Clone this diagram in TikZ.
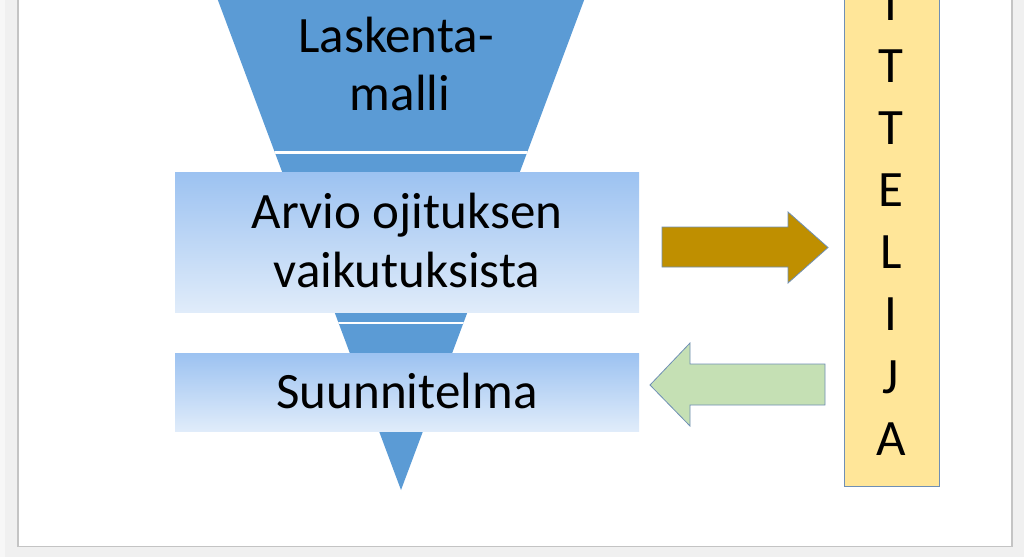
\documentclass[tikz,border=0pt]{standalone}
\usepackage{fontspec}
\setmainfont{Carlito}
\definecolor{bgout}{HTML}{F0F0F0}
\definecolor{framec}{HTML}{C4C4C4}
\definecolor{funnelc}{HTML}{5B9BD5}
\definecolor{boxtop}{HTML}{9CC2F1}
\definecolor{boxbot}{HTML}{E0ECFA}
\definecolor{brownc}{HTML}{BF8F00}
\definecolor{greenc}{HTML}{C5E0B4}
\definecolor{edgec}{HTML}{6F8FB5}
\definecolor{yellowc}{HTML}{FFE699}
\begin{document}
\begin{tikzpicture}[x=1pt,y=-1pt,
  lbl/.style={inner sep=0pt, anchor=base, font=\fontsize{51}{58}\selectfont},
  letter/.style={inner sep=0pt, anchor=base, font=\fontsize{51}{58}\selectfont},
  gradbox/.style={rectangle, inner sep=0pt, top color=boxtop, bottom color=boxbot, draw=none}]
\useasboundingbox (0,0) rectangle (1024,557);
\clip (0,0) rectangle (1024,557);
% frame
\fill[bgout] (0,0) rectangle (1024,557);
\fill[white!97!black] (0,0) rectangle (5,557);
\fill[white] (18,-5) rectangle (1012,546.5);
\draw[framec, line width=1.5pt] (18,-5) -- (18,546.5) -- (1012,546.5) -- (1012,-5);
% funnel
\coordinate (fl) at (216,-5);
\coordinate (fr) at (586,-5);
\coordinate (apex) at (401,490);
\fill[funnelc] (fl) -- (fr) -- (apex) -- cycle;
\begin{scope}
  \clip (fl) -- (fr) -- (apex) -- cycle;
  \draw[white, line width=2.5pt] (150,152.5) -- (650,152.5);
  \draw[white, line width=2.5pt] (150,323) -- (650,323);
\end{scope}
\node[lbl] (las1) at (396,52) {Laskenta-};
\node[lbl] (las2) at (400,110) {malli};
% boxes
\node[gradbox, minimum width=464pt, minimum height=140pt] (arvio) at (407,242) {};
\node[lbl] (arv1) at (arvio.center |- 0,228) {Arvio ojituksen};
\node[lbl] (arv2) at (arvio.center |- 0,287) {vaikutuksista};
\node[gradbox, minimum width=464pt, minimum height=78pt] (suun) at (407,392) {};
\node[lbl] (suu1) at (suun.center |- 0,408) {Suunnitelma};
% tall box
\node[rectangle, inner sep=0pt, fill=yellowc, draw=edgec, line width=1.2pt,
      minimum width=95pt, minimum height=500pt, anchor=south west] (user) at (844,487) {};
\foreach \ch/\yy [count=\i] in {I/20,T/82,T/144,E/206,L/268,I/330,J/393,A/455}{
  \node[letter] (ch\i) at (891,\yy) {\ch};
}
% arrows
\draw[fill=brownc, draw=edgec, line width=0.8pt]
  (662,227) -- (788,227) -- (788,212) -- (828,247.5) -- (788,283) -- (788,267) -- (662,267) -- cycle;
\draw[fill=greenc, draw=edgec, line width=0.8pt]
  (825,364) -- (690,364) -- (690,343) -- (650,385) -- (690,426) -- (690,405) -- (825,405) -- cycle;
\end{tikzpicture}
\end{document}
